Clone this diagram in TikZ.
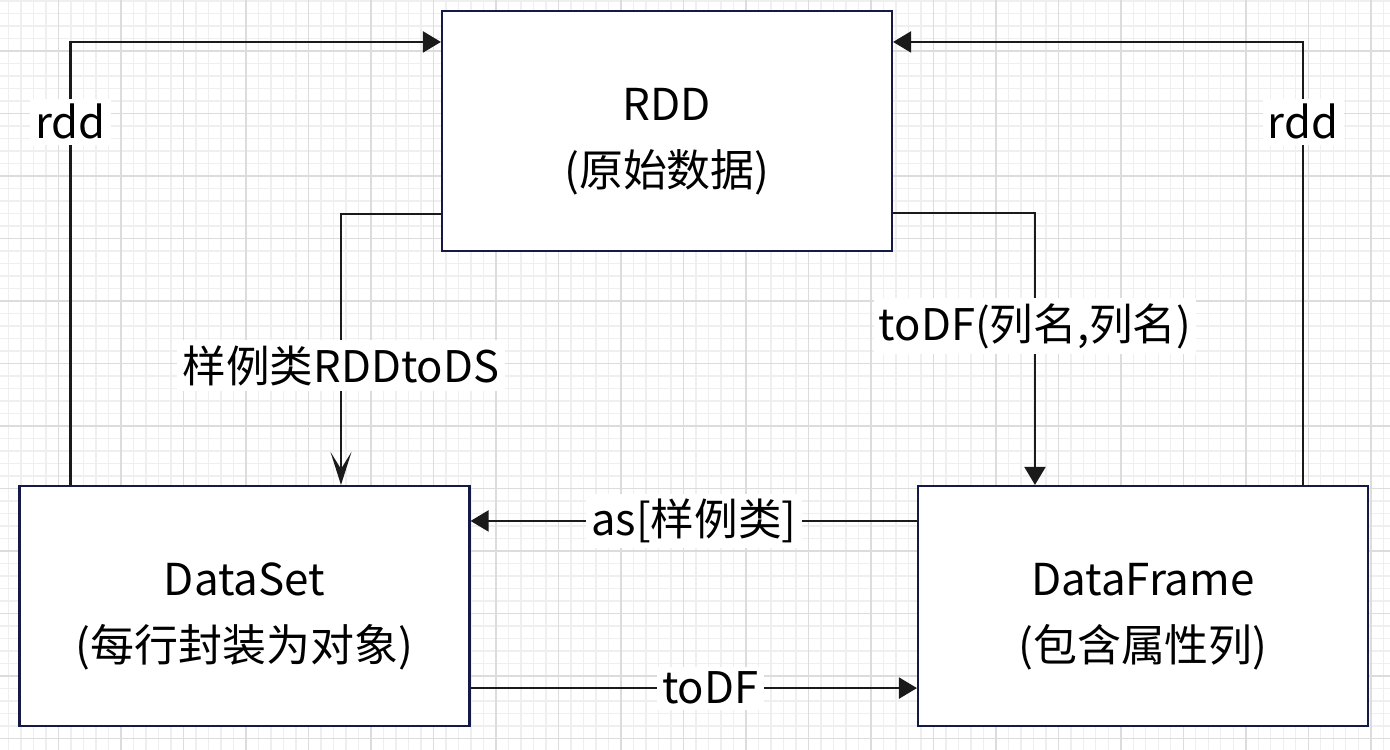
\documentclass[tikz,border=0pt]{standalone}
\usepackage{fontspec}
\setmainfont{Noto Sans CJK SC}
\usetikzlibrary{arrows.meta,positioning,calc}
\definecolor{boxline}{HTML}{141A45}
\definecolor{wire}{HTML}{1A1A1A}
\definecolor{minorgrid}{HTML}{EFEFEF}
\definecolor{majorgrid}{HTML}{DCDCDC}

\begin{document}
\begin{tikzpicture}[
  dataform/.style={draw=boxline,line width=.6pt,fill=white,align=center,
    minimum width=4.5cm,minimum height=2.4cm,inner sep=0pt,
    text height=33.9pt,
    font=\fontsize{12.5}{18.7}\selectfont},
  handoff/.style={draw=wire,line width=.6pt,
    -{Triangle[length=.18cm,width=.21cm]}},
  casting/.style={draw=wire,line width=.6pt,
    -{Stealth[length=.33cm,width=.21cm,inset=.17cm]}},
  annotation/.style={fill=white,inner sep=1.5pt,
    font=\fontsize{12.4}{14}\selectfont}
]
\useasboundingbox (0,0) rectangle (13.90,-7.50);

% Background grid.
\fill[white] (0,0) rectangle (13.90,-7.50);
\begin{scope}[shift={(.583,-.51)}]
  \draw[minorgrid,line width=.4pt,step=.125] (-.6,-7.0) grid (13.4,.55);
  \draw[majorgrid,line width=.4pt,step=.625] (-.6,-7.0) grid (13.4,.55);
\end{scope}

% The three data forms.
\node[dataform] (rdd) at (6.67,-1.31) {RDD\\(原始数据)};
\node[dataform] (dataset) at (2.445,-6.06) {DataSet\\(每行封装为对象)};
\node[dataform] (dataframe) at (11.43,-6.06) {DataFrame\\(包含属性列)};

% Back to RDD on both sides.
\draw[handoff] ([xshift=.52cm]dataset.north west)
  |- node[annotation,pos=.41] {rdd} ([yshift=-.32cm]rdd.north west);
\draw[handoff] ([xshift=-.66cm]dataframe.north east)
  |- node[annotation,pos=.41] {rdd} ([yshift=-.32cm]rdd.north east);

% From RDD down to the typed forms.
\draw[casting] ([yshift=.38cm]rdd.south west)
  -| node[annotation,pos=.78] {样例类RDDtoDS} ([xshift=.965cm]dataset.north);
\draw[handoff] ([yshift=.39cm]rdd.south east)
  -| node[annotation,pos=.708] {toDF(列名,列名)} ([xshift=-1.08cm]dataframe.north);

% Between DataSet and DataFrame.
\coordinate (asfrom) at ([yshift=-.36cm]dataframe.north west);
\draw[handoff] (asfrom)
  -- node[annotation,pos=.5] {as[样例类]} (dataset.east |- asfrom);
\coordinate (dffrom) at ([yshift=.39cm]dataset.south east);
\draw[handoff] (dffrom)
  -- node[annotation,pos=.537] {toDF} (dataframe.west |- dffrom);
\end{tikzpicture}
\end{document}
